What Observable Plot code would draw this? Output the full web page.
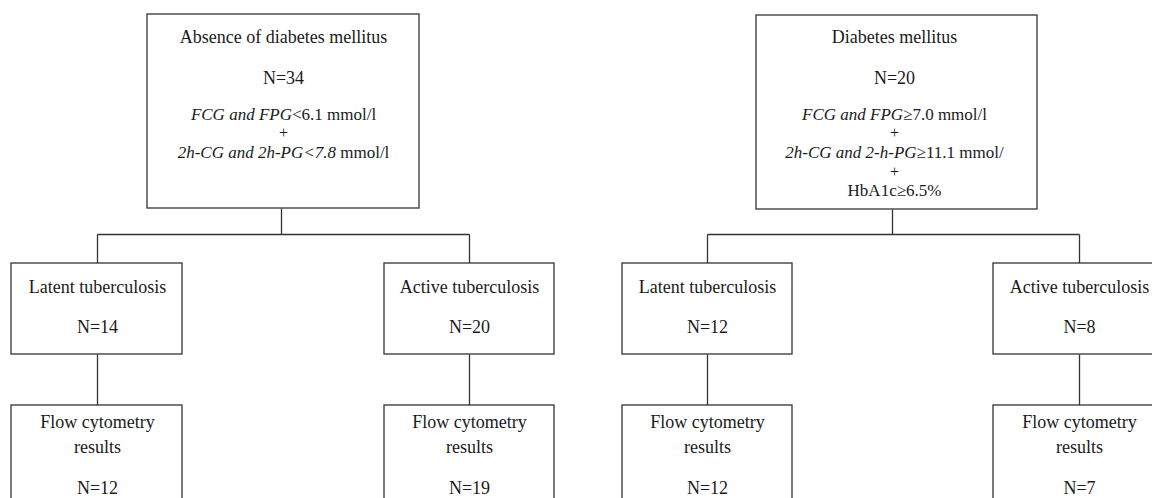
<!DOCTYPE html>
<html>
<head>
<meta charset="utf-8">
<script src="https://cdn.jsdelivr.net/npm/d3@7"></script>
<script src="https://cdn.jsdelivr.net/npm/@observablehq/plot@0.6"></script>
<style>
  html, body { margin: 0; padding: 0; background: #fff; }
  #chart svg { display: block; }
  #chart svg text, #chart svg tspan { font-family: 'Liberation Serif', 'Times New Roman', Times, serif !important; }
</style>
</head>
<body>
<div id="chart"></div>
<script>
// ---- Data ----
const groupTitles = ["Absence of diabetes mellitus", "Diabetes mellitus"];
const groupN = [34, 20];
// criteria lines: arrays of [text, italic] segments; "+" lines are plain strings
const groupCriteria = [
  [
    [["FCG and FPG", true], ["<6.1 mmol/l", false]],
    "+",
    [["2h-CG and 2h-PG<7.8", true], [" mmol/l", false]]
  ],
  [
    [["FCG and FPG", true], ["≥7.0 mmol/l", false]],
    "+",
    [["2h-CG and 2-h-PG", true], ["≥11.1 mmol/", false]],
    "+",
    [["HbA1c≥6.5%", false]]
  ]
];
const tbTypes = ["Latent tuberculosis", "Active tuberculosis"];
const tbN = [[14, 20], [12, 8]];
const flowLabels = ["Flow cytometry", "results"];
const flowN = [[12, 19], [12, 7]];

// ---- Layout (pixel geometry of the diagram) ----
const W = 1152, H = 498;
const topBoxes = [
  {x1: 147, x2: 419, y1: 14, y2: 208, cx: 283, link: 281},
  {x1: 756, x2: 1037, y1: 15, y2: 209, cx: 894, link: 892}
];
const busY = 234;
const subBoxes = [
  [{x1: 11, x2: 182, c: 97}, {x1: 384, x2: 554, c: 469}],
  [{x1: 622, x2: 792, c: 707}, {x1: 993, x2: 1165, c: 1079}]
];
const subY = [263, 354];
const flowY = [405, 530];
const titleBase = 42, nBase = 83, critBase = [119, 137, 157, 176, 195];
const subTitleBase = 292, subNBase = 332;
const flowBase = [427, 452, 493];

// ---- Build tables ----
const rects = [], links = [], big = [], crit = [], plus = [];
groupTitles.forEach((t, g) => {
  const tb = topBoxes[g];
  rects.push({x1: tb.x1, x2: tb.x2, y1: tb.y1, y2: tb.y2});
  big.push({x: tb.cx, y: titleBase, text: t});
  big.push({x: tb.cx, y: nBase, text: "N=" + groupN[g]});
  groupCriteria[g].forEach((line, i) => {
    if (typeof line === "string") plus.push({x: tb.cx, y: critBase[i], text: line});
    else crit.push({x: tb.cx, y: critBase[i], text: line.map(s => s[0]).join(""), segs: line});
  });
  links.push({x1: tb.link, y1: tb.y2, x2: tb.link, y2: busY});
  const subs = subBoxes[g];
  links.push({x1: subs[0].c, y1: busY, x2: subs[1].c, y2: busY});
  tbTypes.forEach((tt, k) => {
    const s = subs[k];
    links.push({x1: s.c, y1: busY, x2: s.c, y2: subY[0]});
    rects.push({x1: s.x1, x2: s.x2, y1: subY[0], y2: subY[1]});
    big.push({x: s.c, y: subTitleBase, text: tt});
    big.push({x: s.c, y: subNBase, text: "N=" + tbN[g][k]});
    links.push({x1: s.c, y1: subY[1], x2: s.c, y2: flowY[0]});
    rects.push({x1: s.x1, x2: s.x2, y1: flowY[0], y2: flowY[1]});
    big.push({x: s.c, y: flowBase[0], text: flowLabels[0]});
    big.push({x: s.c, y: flowBase[1], text: flowLabels[1]});
    big.push({x: s.c, y: flowBase[2], text: "N=" + flowN[g][k]});
  });
});

const FONT = "'Liberation Serif', 'Times New Roman', Times, serif";
const STROKE = "#333";

const svg = Plot.plot({
  width: W,
  height: H,
  margin: 0,
  style: {background: "#fff", fontFamily: FONT, overflow: "hidden"},
  x: {domain: [0, W], range: [0, W], axis: null},
  y: {domain: [0, H], range: [0, H], axis: null},
  marks: [
    Plot.link(links, {x1: "x1", y1: "y1", x2: "x2", y2: "y2", stroke: STROKE, strokeWidth: 1.3}),
    Plot.rect(rects, {x1: "x1", x2: "x2", y1: "y1", y2: "y2", fill: "#fff", stroke: STROKE, strokeWidth: 1.3}),
    Plot.text(big, {x: "x", y: "y", text: "text", lineAnchor: "bottom", textAnchor: "middle", fontSize: 18, fill: "#1a1a1a", fontFamily: FONT}),
    Plot.text(crit, {x: "x", y: "y", text: "text", lineAnchor: "bottom", textAnchor: "middle", fontSize: 17, fill: "#1a1a1a", fontFamily: FONT}),
    Plot.text(plus, {x: "x", y: "y", text: "text", lineAnchor: "bottom", textAnchor: "middle", fontSize: 16, fill: "#1a1a1a", fontFamily: FONT})
  ]
});

// Rebuild mixed italic/regular lines as tspans
const richMap = new Map(crit.map(d => [d.text, d.segs]));
d3.select(svg).selectAll("text").each(function() {
  const segs = richMap.get(this.textContent);
  if (!segs) return;
  const sel = d3.select(this);
  sel.text(null).attr("font-family", FONT);
  segs.forEach(([t, it]) => {
    sel.append("tspan")
      .attr("font-family", FONT)
      .attr("font-style", it ? "italic" : "normal")
      .text(t);
  });
});

document.getElementById("chart").appendChild(svg);
</script>
</body>
</html>
